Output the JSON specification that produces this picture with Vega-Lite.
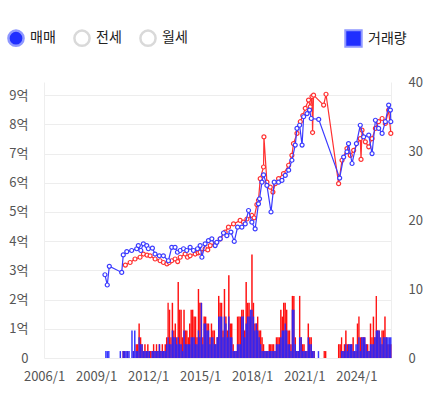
{
  "$schema": "https://vega.github.io/schema/vega-lite/v6.json",
  "width": 347,
  "height": 276,
  "autosize": "none",
  "padding": {"left": 44, "top": 82, "right": 53, "bottom": 48},
  "datasets": {
    "vol": [
      {"m": "2009-07-15", "r": 0, "b": 1}, {"m": "2009-08-15", "r": 0, "b": 1}, {"m": "2009-09-15", "r": 0, "b": 1},
      {"m": "2010-05-15", "r": 0, "b": 1}, {"m": "2010-07-15", "r": 1, "b": 1}, {"m": "2010-08-15", "r": 1, "b": 1},
      {"m": "2010-09-15", "r": 0, "b": 1}, {"m": "2010-10-15", "r": 1, "b": 1}, {"m": "2010-11-15", "r": 0, "b": 1},
      {"m": "2011-01-15", "r": 0, "b": 4}, {"m": "2011-02-15", "r": 1, "b": 1}, {"m": "2011-03-15", "r": 0, "b": 4},
      {"m": "2011-04-15", "r": 2, "b": 1}, {"m": "2011-05-15", "r": 2, "b": 1}, {"m": "2011-06-15", "r": 5, "b": 3},
      {"m": "2011-07-15", "r": 3, "b": 2}, {"m": "2011-08-15", "r": 2, "b": 2}, {"m": "2011-09-15", "r": 1, "b": 1},
      {"m": "2011-10-15", "r": 2, "b": 1}, {"m": "2011-11-15", "r": 1, "b": 1}, {"m": "2011-12-15", "r": 2, "b": 1},
      {"m": "2012-01-15", "r": 1, "b": 1}, {"m": "2012-02-15", "r": 1, "b": 0}, {"m": "2012-03-15", "r": 1, "b": 1},
      {"m": "2012-04-15", "r": 2, "b": 1}, {"m": "2012-05-15", "r": 1, "b": 1}, {"m": "2012-06-15", "r": 2, "b": 1},
      {"m": "2012-07-15", "r": 1, "b": 1}, {"m": "2012-08-15", "r": 2, "b": 2}, {"m": "2012-09-15", "r": 1, "b": 1},
      {"m": "2012-10-15", "r": 2, "b": 1}, {"m": "2012-11-15", "r": 1, "b": 1}, {"m": "2012-12-15", "r": 2, "b": 1},
      {"m": "2013-01-15", "r": 3, "b": 2}, {"m": "2013-02-15", "r": 8, "b": 3}, {"m": "2013-03-15", "r": 7, "b": 2},
      {"m": "2013-04-15", "r": 3, "b": 2}, {"m": "2013-05-15", "r": 8, "b": 4}, {"m": "2013-06-15", "r": 4, "b": 3},
      {"m": "2013-07-15", "r": 5, "b": 3}, {"m": "2013-08-15", "r": 3, "b": 2}, {"m": "2013-09-15", "r": 11, "b": 3},
      {"m": "2013-10-15", "r": 7, "b": 2}, {"m": "2013-11-15", "r": 7, "b": 2}, {"m": "2013-12-15", "r": 3, "b": 1},
      {"m": "2014-01-15", "r": 7, "b": 4}, {"m": "2014-02-15", "r": 4, "b": 2}, {"m": "2014-03-15", "r": 4, "b": 2},
      {"m": "2014-04-15", "r": 3, "b": 2}, {"m": "2014-05-15", "r": 5, "b": 2}, {"m": "2014-06-15", "r": 7, "b": 3},
      {"m": "2014-07-15", "r": 7, "b": 3}, {"m": "2014-08-15", "r": 6, "b": 3}, {"m": "2014-09-15", "r": 6, "b": 2},
      {"m": "2014-10-15", "r": 3, "b": 2}, {"m": "2014-11-15", "r": 10, "b": 4}, {"m": "2014-12-15", "r": 8, "b": 3},
      {"m": "2015-01-15", "r": 8, "b": 8}, {"m": "2015-02-15", "r": 3, "b": 2}, {"m": "2015-03-15", "r": 6, "b": 5},
      {"m": "2015-04-15", "r": 6, "b": 5}, {"m": "2015-05-15", "r": 5, "b": 4}, {"m": "2015-06-15", "r": 5, "b": 4},
      {"m": "2015-07-15", "r": 3, "b": 2}, {"m": "2015-08-15", "r": 5, "b": 3}, {"m": "2015-09-15", "r": 4, "b": 3},
      {"m": "2015-10-15", "r": 4, "b": 2}, {"m": "2015-11-15", "r": 2, "b": 2}, {"m": "2015-12-15", "r": 3, "b": 3},
      {"m": "2016-01-15", "r": 9, "b": 6}, {"m": "2016-02-15", "r": 8, "b": 6}, {"m": "2016-03-15", "r": 8, "b": 6},
      {"m": "2016-04-15", "r": 4, "b": 3}, {"m": "2016-05-15", "r": 10, "b": 6}, {"m": "2016-06-15", "r": 6, "b": 5},
      {"m": "2016-07-15", "r": 4, "b": 3}, {"m": "2016-08-15", "r": 12, "b": 6}, {"m": "2016-09-15", "r": 5, "b": 3},
      {"m": "2016-10-15", "r": 5, "b": 3}, {"m": "2016-11-15", "r": 2, "b": 1}, {"m": "2016-12-15", "r": 1, "b": 1},
      {"m": "2017-01-15", "r": 1, "b": 1}, {"m": "2017-02-15", "r": 6, "b": 2}, {"m": "2017-03-15", "r": 6, "b": 2},
      {"m": "2017-04-15", "r": 6, "b": 2}, {"m": "2017-05-15", "r": 7, "b": 6}, {"m": "2017-06-15", "r": 7, "b": 6},
      {"m": "2017-07-15", "r": 4, "b": 3}, {"m": "2017-08-15", "r": 11, "b": 5}, {"m": "2017-09-15", "r": 8, "b": 6},
      {"m": "2017-10-15", "r": 8, "b": 6}, {"m": "2017-11-15", "r": 6, "b": 7}, {"m": "2017-12-15", "r": 15, "b": 7},
      {"m": "2018-01-15", "r": 8, "b": 6}, {"m": "2018-02-15", "r": 5, "b": 4}, {"m": "2018-03-15", "r": 5, "b": 5},
      {"m": "2018-04-15", "r": 6, "b": 4}, {"m": "2018-05-15", "r": 4, "b": 3}, {"m": "2018-06-15", "r": 4, "b": 2},
      {"m": "2018-07-15", "r": 3, "b": 1}, {"m": "2018-08-15", "r": 2, "b": 1}, {"m": "2018-09-15", "r": 1, "b": 1},
      {"m": "2018-10-15", "r": 1, "b": 1}, {"m": "2018-11-15", "r": 1, "b": 1}, {"m": "2018-12-15", "r": 2, "b": 1},
      {"m": "2019-01-15", "r": 2, "b": 1}, {"m": "2019-02-15", "r": 2, "b": 1}, {"m": "2019-03-15", "r": 2, "b": 1},
      {"m": "2019-04-15", "r": 1, "b": 1}, {"m": "2019-05-15", "r": 3, "b": 2}, {"m": "2019-06-15", "r": 3, "b": 2},
      {"m": "2019-07-15", "r": 3, "b": 2}, {"m": "2019-08-15", "r": 7, "b": 3}, {"m": "2019-09-15", "r": 6, "b": 4},
      {"m": "2019-10-15", "r": 8, "b": 4}, {"m": "2019-11-15", "r": 8, "b": 5}, {"m": "2019-12-15", "r": 7, "b": 4},
      {"m": "2020-01-15", "r": 4, "b": 2}, {"m": "2020-02-15", "r": 4, "b": 2}, {"m": "2020-03-15", "r": 2, "b": 1},
      {"m": "2020-04-15", "r": 9, "b": 7}, {"m": "2020-05-15", "r": 9, "b": 7}, {"m": "2020-06-15", "r": 3, "b": 2},
      {"m": "2020-07-15", "r": 1, "b": 1}, {"m": "2020-08-15", "r": 1, "b": 1}, {"m": "2020-09-15", "r": 9, "b": 3},
      {"m": "2020-10-15", "r": 3, "b": 3}, {"m": "2020-11-15", "r": 2, "b": 1}, {"m": "2020-12-15", "r": 2, "b": 1},
      {"m": "2021-01-15", "r": 1, "b": 1}, {"m": "2021-02-15", "r": 1, "b": 1}, {"m": "2021-03-15", "r": 5, "b": 3},
      {"m": "2021-04-15", "r": 3, "b": 2}, {"m": "2021-05-15", "r": 3, "b": 2}, {"m": "2021-06-15", "r": 1, "b": 1},
      {"m": "2021-07-15", "r": 1, "b": 1}, {"m": "2021-10-15", "r": 0, "b": 1}, {"m": "2022-02-15", "r": 1, "b": 0},
      {"m": "2022-03-15", "r": 1, "b": 0}, {"m": "2022-12-15", "r": 2, "b": 0}, {"m": "2023-01-15", "r": 2, "b": 0},
      {"m": "2023-02-15", "r": 3, "b": 1}, {"m": "2023-03-15", "r": 1, "b": 1}, {"m": "2023-04-15", "r": 2, "b": 1},
      {"m": "2023-05-15", "r": 4, "b": 2}, {"m": "2023-06-15", "r": 2, "b": 1}, {"m": "2023-07-15", "r": 2, "b": 2},
      {"m": "2023-08-15", "r": 2, "b": 2}, {"m": "2023-09-15", "r": 2, "b": 2}, {"m": "2023-10-15", "r": 3, "b": 1},
      {"m": "2023-11-15", "r": 1, "b": 1}, {"m": "2023-12-15", "r": 1, "b": 2}, {"m": "2024-01-15", "r": 5, "b": 2},
      {"m": "2024-02-15", "r": 6, "b": 3}, {"m": "2024-03-15", "r": 3, "b": 1}, {"m": "2024-04-15", "r": 3, "b": 3},
      {"m": "2024-05-15", "r": 3, "b": 3}, {"m": "2024-06-15", "r": 3, "b": 3}, {"m": "2024-07-15", "r": 2, "b": 2},
      {"m": "2024-08-15", "r": 2, "b": 1}, {"m": "2024-09-15", "r": 1, "b": 1}, {"m": "2024-10-15", "r": 5, "b": 2},
      {"m": "2024-11-15", "r": 3, "b": 2}, {"m": "2024-12-15", "r": 6, "b": 2}, {"m": "2025-01-15", "r": 3, "b": 3},
      {"m": "2025-02-15", "r": 9, "b": 4}, {"m": "2025-03-15", "r": 4, "b": 4}, {"m": "2025-04-15", "r": 4, "b": 4},
      {"m": "2025-05-15", "r": 2, "b": 3}, {"m": "2025-06-15", "r": 4, "b": 2}, {"m": "2025-07-15", "r": 4, "b": 3},
      {"m": "2025-08-15", "r": 6, "b": 3}, {"m": "2025-09-15", "r": 3, "b": 3}, {"m": "2025-10-15", "r": 2, "b": 3},
      {"m": "2025-11-15", "r": 2, "b": 3}, {"m": "2025-12-15", "r": 2, "b": 3}
    ],
    "price": [
      {"s": "r", "d": "2010-09-10", "p": 3.18}, {"s": "r", "d": "2010-12-19", "p": 3.27}, {"s": "r", "d": "2011-04-01", "p": 3.39},
      {"s": "r", "d": "2011-07-16", "p": 3.45}, {"s": "r", "d": "2011-09-25", "p": 3.56}, {"s": "r", "d": "2011-12-10", "p": 3.52},
      {"s": "r", "d": "2012-02-13", "p": 3.5}, {"s": "r", "d": "2012-05-28", "p": 3.39}, {"s": "r", "d": "2012-09-10", "p": 3.33},
      {"s": "r", "d": "2012-11-19", "p": 3.27}, {"s": "r", "d": "2013-02-01", "p": 3.22}, {"s": "r", "d": "2013-03-20", "p": 3.27},
      {"s": "r", "d": "2013-05-13", "p": 3.33}, {"s": "r", "d": "2013-07-22", "p": 3.39}, {"s": "r", "d": "2013-09-15", "p": 3.3},
      {"s": "r", "d": "2013-11-07", "p": 3.45}, {"s": "r", "d": "2014-02-19", "p": 3.56}, {"s": "r", "d": "2014-04-10", "p": 3.45},
      {"s": "r", "d": "2014-06-04", "p": 3.5}, {"s": "r", "d": "2014-09-19", "p": 3.56}, {"s": "r", "d": "2014-11-20", "p": 3.6},
      {"s": "r", "d": "2015-01-01", "p": 3.62}, {"s": "r", "d": "2015-04-16", "p": 3.74}, {"s": "r", "d": "2015-06-10", "p": 3.7},
      {"s": "r", "d": "2015-08-01", "p": 3.85}, {"s": "r", "d": "2015-11-13", "p": 3.91}, {"s": "r", "d": "2016-02-28", "p": 4.08},
      {"s": "r", "d": "2016-06-10", "p": 4.31}, {"s": "r", "d": "2016-08-19", "p": 4.48}, {"s": "r", "d": "2016-12-04", "p": 4.59},
      {"s": "r", "d": "2017-04-22", "p": 4.71}, {"s": "r", "d": "2017-07-01", "p": 4.65}, {"s": "r", "d": "2017-09-13", "p": 4.76},
      {"s": "r", "d": "2017-12-25", "p": 4.88}, {"s": "r", "d": "2018-02-10", "p": 4.8}, {"s": "r", "d": "2018-04-10", "p": 5.25},
      {"s": "r", "d": "2018-05-13", "p": 5.4}, {"s": "r", "d": "2018-06-19", "p": 6.14}, {"s": "r", "d": "2018-08-28", "p": 6.54},
      {"s": "r", "d": "2018-09-05", "p": 7.57}, {"s": "r", "d": "2018-11-07", "p": 6.02}, {"s": "r", "d": "2019-01-16", "p": 5.85},
      {"s": "r", "d": "2019-03-13", "p": 5.68}, {"s": "r", "d": "2019-05-01", "p": 5.97}, {"s": "r", "d": "2019-07-10", "p": 6.14},
      {"s": "r", "d": "2019-10-22", "p": 6.31}, {"s": "r", "d": "2020-02-07", "p": 6.6}, {"s": "r", "d": "2020-04-16", "p": 6.94},
      {"s": "r", "d": "2020-05-19", "p": 7.34}, {"s": "r", "d": "2020-08-01", "p": 7.69}, {"s": "r", "d": "2020-10-10", "p": 8.09},
      {"s": "r", "d": "2020-12-01", "p": 8.3}, {"s": "r", "d": "2021-01-22", "p": 8.55}, {"s": "r", "d": "2021-04-01", "p": 8.83},
      {"s": "r", "d": "2021-05-07", "p": 8.6}, {"s": "r", "d": "2021-06-13", "p": 8.95}, {"s": "r", "d": "2021-06-25", "p": 7.72},
      {"s": "r", "d": "2021-07-16", "p": 9.0}, {"s": "r", "d": "2022-02-13", "p": 8.66}, {"s": "r", "d": "2022-04-04", "p": 9.03},
      {"s": "r", "d": "2022-12-25", "p": 5.97}, {"s": "r", "d": "2023-03-07", "p": 6.77}, {"s": "r", "d": "2023-06-19", "p": 7.17},
      {"s": "r", "d": "2023-08-28", "p": 6.94}, {"s": "r", "d": "2023-11-07", "p": 7.11}, {"s": "r", "d": "2024-03-25", "p": 7.51},
      {"s": "r", "d": "2024-04-10", "p": 6.8}, {"s": "r", "d": "2024-05-01", "p": 7.8}, {"s": "r", "d": "2024-07-10", "p": 7.4},
      {"s": "r", "d": "2024-09-19", "p": 7.23}, {"s": "r", "d": "2024-11-28", "p": 7.51}, {"s": "r", "d": "2025-02-07", "p": 7.86},
      {"s": "r", "d": "2025-04-16", "p": 8.09}, {"s": "r", "d": "2025-06-28", "p": 8.2}, {"s": "r", "d": "2025-09-04", "p": 8.03},
      {"s": "r", "d": "2025-11-13", "p": 8.49}, {"s": "r", "d": "2025-12-28", "p": 7.69},
      {"s": "b", "d": "2009-07-07", "p": 2.85}, {"s": "b", "d": "2009-08-25", "p": 2.5}, {"s": "b", "d": "2009-10-07", "p": 3.14},
      {"s": "b", "d": "2010-06-25", "p": 2.93}, {"s": "b", "d": "2010-07-28", "p": 3.53}, {"s": "b", "d": "2010-10-10", "p": 3.64},
      {"s": "b", "d": "2011-01-21", "p": 3.68}, {"s": "b", "d": "2011-05-07", "p": 3.74}, {"s": "b", "d": "2011-06-10", "p": 3.85},
      {"s": "b", "d": "2011-08-01", "p": 3.68}, {"s": "b", "d": "2011-09-24", "p": 3.91}, {"s": "b", "d": "2011-12-04", "p": 3.85},
      {"s": "b", "d": "2012-01-07", "p": 3.74}, {"s": "b", "d": "2012-04-01", "p": 3.76}, {"s": "b", "d": "2012-05-27", "p": 3.56},
      {"s": "b", "d": "2012-08-25", "p": 3.5}, {"s": "b", "d": "2012-11-18", "p": 3.5}, {"s": "b", "d": "2013-03-04", "p": 3.33},
      {"s": "b", "d": "2013-05-13", "p": 3.79}, {"s": "b", "d": "2013-07-22", "p": 3.79}, {"s": "b", "d": "2013-09-10", "p": 3.62},
      {"s": "b", "d": "2013-11-07", "p": 3.68}, {"s": "b", "d": "2014-01-16", "p": 3.74}, {"s": "b", "d": "2014-03-25", "p": 3.68},
      {"s": "b", "d": "2014-06-04", "p": 3.79}, {"s": "b", "d": "2014-08-13", "p": 3.68}, {"s": "b", "d": "2014-11-07", "p": 3.74},
      {"s": "b", "d": "2015-01-01", "p": 3.85}, {"s": "b", "d": "2015-02-07", "p": 3.45}, {"s": "b", "d": "2015-04-16", "p": 3.91},
      {"s": "b", "d": "2015-06-25", "p": 4.02}, {"s": "b", "d": "2015-09-04", "p": 4.08}, {"s": "b", "d": "2015-11-13", "p": 3.85},
      {"s": "b", "d": "2015-12-19", "p": 3.96}, {"s": "b", "d": "2016-02-28", "p": 4.08}, {"s": "b", "d": "2016-05-07", "p": 4.28},
      {"s": "b", "d": "2016-07-16", "p": 4.19}, {"s": "b", "d": "2016-10-10", "p": 4.31}, {"s": "b", "d": "2016-12-19", "p": 3.99},
      {"s": "b", "d": "2017-02-28", "p": 4.48}, {"s": "b", "d": "2017-05-28", "p": 4.48}, {"s": "b", "d": "2017-08-07", "p": 4.59},
      {"s": "b", "d": "2017-10-16", "p": 5.05}, {"s": "b", "d": "2017-12-25", "p": 4.65}, {"s": "b", "d": "2018-03-04", "p": 4.42},
      {"s": "b", "d": "2018-05-13", "p": 5.28}, {"s": "b", "d": "2018-06-04", "p": 5.45}, {"s": "b", "d": "2018-07-25", "p": 6.02},
      {"s": "b", "d": "2018-08-28", "p": 6.27}, {"s": "b", "d": "2018-11-07", "p": 5.91}, {"s": "b", "d": "2019-02-01", "p": 5.0},
      {"s": "b", "d": "2019-04-10", "p": 6.02}, {"s": "b", "d": "2019-07-10", "p": 6.02}, {"s": "b", "d": "2019-09-19", "p": 6.08},
      {"s": "b", "d": "2019-11-28", "p": 6.25}, {"s": "b", "d": "2020-02-07", "p": 6.43}, {"s": "b", "d": "2020-04-16", "p": 6.77},
      {"s": "b", "d": "2020-06-25", "p": 7.29}, {"s": "b", "d": "2020-08-01", "p": 7.86}, {"s": "b", "d": "2020-09-25", "p": 7.97},
      {"s": "b", "d": "2020-11-16", "p": 7.29}, {"s": "b", "d": "2020-12-19", "p": 8.26}, {"s": "b", "d": "2021-02-28", "p": 8.37},
      {"s": "b", "d": "2021-04-22", "p": 8.49}, {"s": "b", "d": "2021-05-28", "p": 8.2}, {"s": "b", "d": "2021-11-01", "p": 8.17},
      {"s": "b", "d": "2023-01-16", "p": 6.16}, {"s": "b", "d": "2023-04-10", "p": 6.88}, {"s": "b", "d": "2023-06-19", "p": 7.06},
      {"s": "b", "d": "2023-07-22", "p": 7.34}, {"s": "b", "d": "2023-10-04", "p": 6.66}, {"s": "b", "d": "2024-01-04", "p": 7.34},
      {"s": "b", "d": "2024-03-25", "p": 7.97}, {"s": "b", "d": "2024-06-04", "p": 7.57}, {"s": "b", "d": "2024-09-19", "p": 7.63},
      {"s": "b", "d": "2024-11-28", "p": 7.0}, {"s": "b", "d": "2025-02-07", "p": 8.14}, {"s": "b", "d": "2025-04-16", "p": 7.86},
      {"s": "b", "d": "2025-06-28", "p": 7.69}, {"s": "b", "d": "2025-09-04", "p": 8.09}, {"s": "b", "d": "2025-11-13", "p": 8.66},
      {"s": "b", "d": "2025-12-19", "p": 8.49}, {"s": "b", "d": "2025-12-28", "p": 8.09}
    ],
    "opts": [{"opt": "매매"}, {"opt": "전세"}, {"opt": "월세"}],
    "volkey": [{"k": "거래량"}]
  },
  "layer": [
    {
      "data": {"name": "vol"},
      "encoding": {
        "x": {
          "field": "m", "timeUnit": "yearmonth", "type": "temporal", "title": null,
          "scale": {"domain": [{"year": 2006, "month": 1, "date": 1}, {"year": 2026, "month": 1, "date": 1}]},
          "axis": {
            "values": [
              {"year": 2006, "month": 1, "date": 1}, {"year": 2009, "month": 1, "date": 1}, {"year": 2012, "month": 1, "date": 1},
              {"year": 2015, "month": 1, "date": 1}, {"year": 2018, "month": 1, "date": 1}, {"year": 2021, "month": 1, "date": 1},
              {"year": 2024, "month": 1, "date": 1}
            ],
            "format": "%Y/%-m", "grid": false, "labelPadding": 12, "labelFlush": false
          }
        }
      },
      "layer": [
        {
          "mark": {"type": "bar", "color": "#ff1010", "opacity": 1, "binSpacing": 0},
          "encoding": {
            "y": {"field": "r", "type": "quantitative", "title": null,
              "scale": {"domain": [0, 40], "nice": false},
              "axis": {"orient": "right", "values": [0, 10, 20, 30, 40], "grid": false, "labelPadding": 17, "domain": true, "domainColor": "#eeeeee"}}
          }
        },
        {
          "mark": {"type": "bar", "color": "#2626ff", "opacity": 0.92, "binSpacing": 0},
          "encoding": {"y": {"field": "b", "type": "quantitative"}}
        }
      ]
    },
    {
      "data": {"name": "price"},
      "encoding": {
        "x": {"field": "d", "type": "temporal", "title": null,
          "scale": {"domain": [{"year": 2006, "month": 1, "date": 1}, {"year": 2026, "month": 1, "date": 1}]},
          "axis": {
            "values": [
              {"year": 2006, "month": 1, "date": 1}, {"year": 2009, "month": 1, "date": 1}, {"year": 2012, "month": 1, "date": 1},
              {"year": 2015, "month": 1, "date": 1}, {"year": 2018, "month": 1, "date": 1}, {"year": 2021, "month": 1, "date": 1},
              {"year": 2024, "month": 1, "date": 1}
            ],
            "format": "%Y/%-m", "grid": false, "labelPadding": 12, "labelFlush": false
          }},
        "y": {"field": "p", "type": "quantitative", "title": null,
          "scale": {"domain": [0, 9.45], "nice": false},
          "axis": {"orient": "left", "values": [0, 1, 2, 3, 4, 5, 6, 7, 8, 9], "grid": true, "gridColor": "#ededed",
            "labelPadding": 16, "domain": true, "domainColor": "#eeeeee",
            "labelExpr": "datum.value === 0 ? '0' : datum.value + '억'"}}
      },
      "layer": [
        {"transform": [{"filter": "datum.s === 'r'"}], "mark": {"type": "line", "color": "#ff3030", "strokeWidth": 1.2}},
        {"transform": [{"filter": "datum.s === 'r'"}], "mark": {"type": "point", "shape": "circle", "size": 16, "filled": true, "fill": "#ffffff", "stroke": "#ff3030", "strokeWidth": 1.2, "opacity": 1}},
        {"transform": [{"filter": "datum.s === 'b'"}], "mark": {"type": "line", "color": "#3a3aff", "strokeWidth": 1.2}},
        {"transform": [{"filter": "datum.s === 'b'"}], "mark": {"type": "point", "shape": "circle", "size": 16, "filled": true, "fill": "#ffffff", "stroke": "#3a3aff", "strokeWidth": 1.2, "opacity": 1}}
      ]
    },
    {
      "data": {"name": "opts"},
      "transform": [{"filter": "false"}],
      "mark": {"type": "point", "shape": "circle", "filled": true, "strokeWidth": 2.5},
      "encoding": {
        "fill": {"field": "opt", "type": "nominal",
          "scale": {"domain": ["매매", "전세", "월세"], "range": ["#1f2eff", "#ffffff", "#ffffff"]},
          "legend": {
            "title": null, "orient": "none", "legendX": -37, "legendY": -53, "direction": "horizontal",
            "symbolType": "circle", "symbolSize": 230, "symbolOpacity": 1, "symbolStrokeWidth": 2.5,
            "labelFontSize": 14, "labelColor": "#222222", "labelOffset": 5, "columnPadding": 13
          }},
        "stroke": {"field": "opt", "type": "nominal",
          "scale": {"domain": ["매매", "전세", "월세"], "range": ["#8f98ff", "#d9d9d9", "#d9d9d9"]},
          "legend": {
            "title": null, "orient": "none", "legendX": -37, "legendY": -53, "direction": "horizontal",
            "symbolType": "circle", "symbolSize": 230, "symbolOpacity": 1, "symbolStrokeWidth": 2.5,
            "labelFontSize": 14, "labelColor": "#222222", "labelOffset": 5, "columnPadding": 13
          }}
      }
    },
    {
      "data": {"name": "volkey"},
      "transform": [{"filter": "false"}],
      "mark": {"type": "square", "filled": true},
      "encoding": {
        "color": {"field": "k", "type": "nominal",
          "scale": {"domain": ["거래량"], "range": ["#1f2eff"]},
          "legend": {
            "title": null, "orient": "none", "legendX": 300, "legendY": -53,
            "symbolType": "square", "symbolSize": 270, "symbolOpacity": 1, "symbolStrokeColor": "#8f98ff", "symbolStrokeWidth": 2,
            "labelFontSize": 14, "labelColor": "#222222", "labelOffset": 5
          }}
      }
    }
  ],
  "resolve": {"scale": {"y": "independent"}},
  "config": {
    "font": "Noto Sans CJK KR",
    "view": {"stroke": null},
    "axis": {"labelFont": "Noto Sans CJK KR", "labelFontSize": 13, "labelColor": "#555555", "ticks": false, "domain": false},
    "legend": {"labelFont": "Noto Sans CJK KR"}
  }
}
